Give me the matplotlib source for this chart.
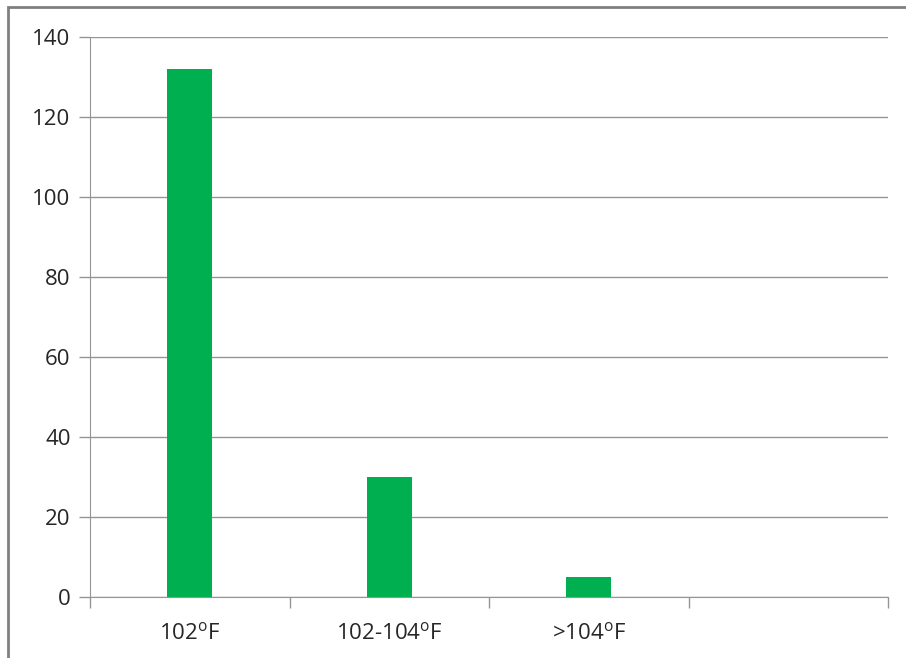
import matplotlib.pyplot as plt
import numpy as np
from matplotlib.patches import Rectangle

categories = ["102$\\mathregular{^o}$F", "102-104$\\mathregular{^o}$F", ">104$\\mathregular{^o}$F", ""]
values = [132, 30, 5, 0]

plt.rcParams['font.family'] = ['Open Sans', 'DejaVu Sans']

fig = plt.figure(figsize=(9.06, 6.58), dpi=100)
W, H = 906, 658
ax = fig.add_axes([90 / W, 1 - 597 / H, (888 - 90) / W, (597 - 37) / H])

x = np.arange(len(categories))
ax.bar(x[:3], values[:3], width=0.225, color='#00B050', zorder=3)

ax.set_xlim(-0.5, len(categories) - 0.5)
ax.set_ylim(0, 140)
ax.set_yticks(np.arange(0, 141, 20))
ax.yaxis.grid(True, color='#959595', linewidth=1)
ax.set_axisbelow(True)

# category ticks sit between the bars, labels in the middle
ax.set_xticks(np.arange(-0.5, len(categories), 1))
ax.set_xticklabels([])
ax.set_xticks(x, minor=True)
ax.set_xticklabels(categories, minor=True, fontsize=16, color='#262626')
ax.tick_params(axis='x', which='major', length=8, color='#959595', width=1)
ax.tick_params(axis='x', which='minor', length=0, pad=18)
ax.tick_params(axis='y', length=8, color='#959595', width=1, labelsize=16,
               labelcolor='#262626', pad=6)

for s in ['top', 'right']:
    ax.spines[s].set_visible(False)
ax.spines['left'].set_color('#959595')
ax.spines['bottom'].set_color('#959595')

# outer chart frame, cut off on the right and bottom like the original
fig.patches.append(Rectangle((8 / W, -0.1), 1.2, 1 - 7 / H + 0.1, transform=fig.transFigure,
                             fill=False, edgecolor='#808080', linewidth=2))

fig.savefig('out.png', dpi=100)
